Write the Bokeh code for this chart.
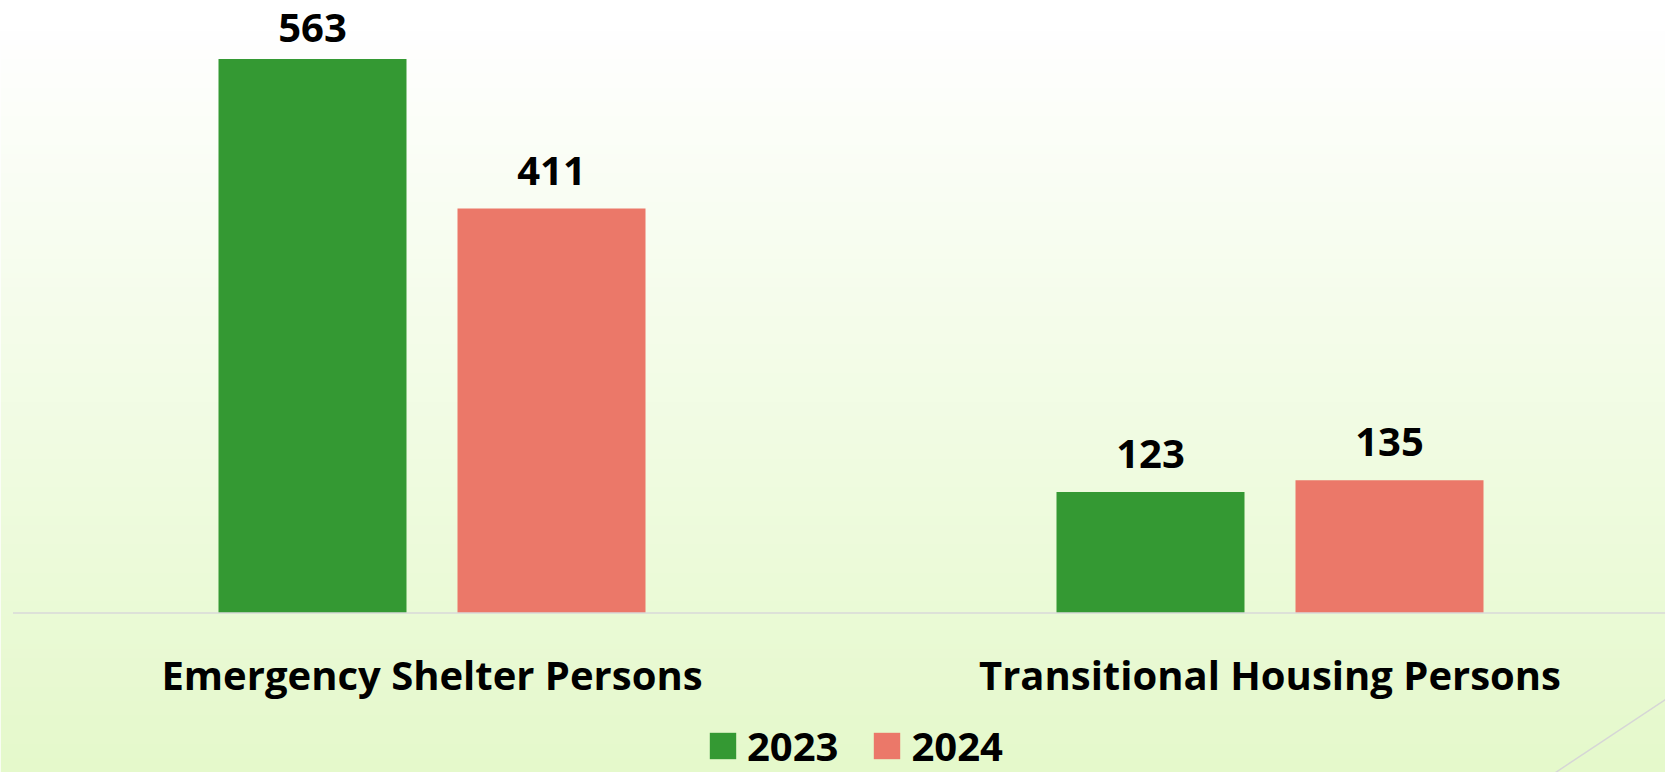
import numpy as np
from bokeh.plotting import figure
from bokeh.models import ColumnDataSource, Range1d, Legend, LegendItem
from bokeh.transform import dodge
from bokeh.core.properties import value
from bokeh.embed import file_html
from bokeh.resources import INLINE

# ---------------- data ----------------
categories = ["Emergency Shelter Persons", "Transitional Housing Persons"]
years = ["2023", "2024"]
values_2023 = [563, 123]
values_2024 = [411, 135]

# ---------------- style ----------------
colors = ["#349933", "#eb7869"]
FONT = "Open Sans"
FONT_SIZE = "40px"
W, H = 1665, 772          # figure size (px)
BASE_PX = 612.5           # baseline position from figure top (px)
PPU_Y = 0.984             # px per value unit
CAT0_PX = 431.5           # centre of first category (px)
CAT_W_PX = 838.0          # px per category
BAR_W_PX = 188.0
BAR_OFF_PX = 119.5
LABEL_GAP_PX = 22
LABEL_TOP_PX = 43
TEXT_SHIFT = -16          # baseline correction for svg text

x_start = -CAT0_PX / CAT_W_PX
x_end = x_start + W / CAT_W_PX
y_end = BASE_PX / PPU_Y
y_start = -(H - BASE_PX) / PPU_Y

def px_to_data(px, py):
    return x_start + px / CAT_W_PX, (BASE_PX - py) / PPU_Y

p = figure(width=W, height=H, x_range=Range1d(x_start, x_end),
           y_range=Range1d(y_start, y_end), output_backend="svg",
           toolbar_location=None, min_border=0,
           x_axis_location=None, y_axis_location=None)
p.grid.visible = False
p.outline_line_color = None

# background gradient (white -> pale green)
top_c = np.array([255, 255, 255], dtype=float)
bot_c = np.array([229, 249, 203], dtype=float)
img = np.empty((H, 1), dtype=np.uint32)
view = img.view(dtype=np.uint8).reshape((H, 1, 4))
for i in range(H):
    fy = H - 1 - i               # row from top
    t = min(max((fy - 30) / (772 - 30), 0.0), 1.0)
    c = top_c * (1 - t) + bot_c * t
    view[i, 0, 0:3] = c.astype(np.uint8)
    view[i, 0, 3] = 255
p.image_rgba(image=[img], x=x_start, y=y_start, dw=x_end - x_start,
             dh=y_end - y_start, level="image")

# decorative slide line (bottom right)
lx0, ly0 = px_to_data(1555, 772)
lx1, ly1 = px_to_data(1665, 699)
p.segment(x0=[lx0], y0=[ly0], x1=[lx1], y1=[ly1], line_color="#d6d6d6",
          line_width=1.5)

idx = list(range(len(categories)))
y_cap = y_end - LABEL_TOP_PX / PPU_Y
src = ColumnDataSource(dict(
    x=idx, cat=categories,
    v23=values_2023, v24=values_2024,
    t23=[str(v) for v in values_2023], t24=[str(v) for v in values_2024],
    l23=[min(v + LABEL_GAP_PX / PPU_Y, y_cap) for v in values_2023],
    l24=[min(v + LABEL_GAP_PX / PPU_Y, y_cap) for v in values_2024],
))

bw = BAR_W_PX / CAT_W_PX
off = BAR_OFF_PX / CAT_W_PX
r23 = p.vbar(x=dodge("x", -off, range=p.x_range), top="v23", bottom=0, width=bw,
             source=src, fill_color=colors[0], line_color=None)
r24 = p.vbar(x=dodge("x", off, range=p.x_range), top="v24", bottom=0, width=bw,
             source=src, fill_color=colors[1], line_color=None)

# baseline
p.segment(x0=[-0.5], y0=[0], x1=[x_end], y1=[0], line_color="#d9d9d9", line_width=1.5)

for ycol, tcol, o in (("l23", "t23", -off), ("l24", "t24", off)):
    p.text(x=dodge("x", o, range=p.x_range), y=ycol, text=tcol, source=src,
           y_offset=TEXT_SHIFT,
           text_align="center", text_baseline="alphabetic",
           text_font=value(FONT), text_font_style="bold",
           text_font_size=FONT_SIZE, text_color="#000000")

# category labels
p.text(x="x", y=0, text="cat", source=src, y_offset=77.5 + TEXT_SHIFT,
       text_align="center", text_baseline="alphabetic",
       text_font=value(FONT), text_font_style="bold",
       text_font_size=FONT_SIZE, text_color="#000000")

legend = Legend(items=[LegendItem(label=years[0], renderers=[r23]),
                       LegendItem(label=years[1], renderers=[r24])],
                orientation="horizontal", location=(706, -1),
                glyph_width=33, glyph_height=33, label_standoff=8, spacing=32,
                padding=0, margin=0, background_fill_alpha=0, border_line_alpha=0,
                label_text_font=FONT, label_text_font_style="bold",
                label_text_font_size=FONT_SIZE, label_text_color="#000000")
p.add_layout(legend)

open("out.html", "w").write(file_html(p, INLINE))
